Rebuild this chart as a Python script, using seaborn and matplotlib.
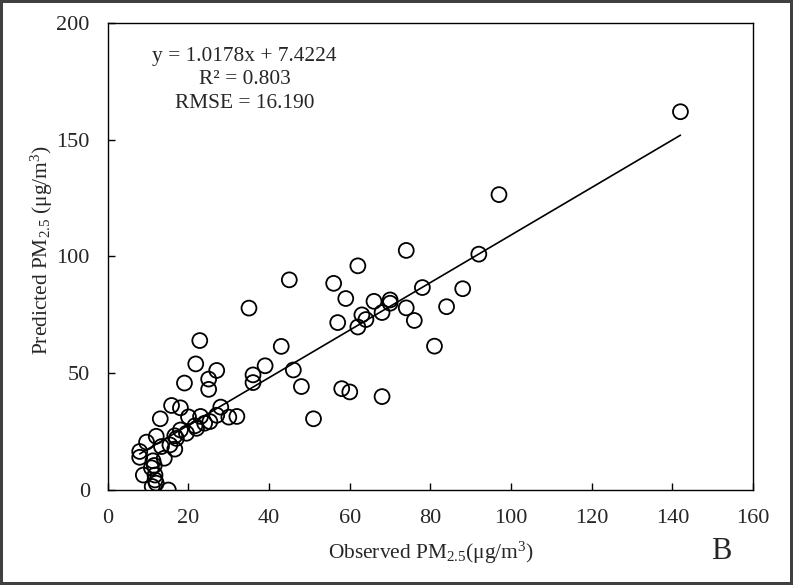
import numpy as np
import pandas as pd
import seaborn as sns
import matplotlib.pyplot as plt

# observed vs predicted PM2.5 (ug/m3)
observed = [142, 97, 92, 74, 62, 45, 56, 59, 66, 70, 70, 78, 88, 84, 74, 76,
            68, 63, 64, 62, 57, 81, 43, 39, 36, 36, 46, 48, 58, 60, 68, 51, 35,
            22.8, 21.8, 27, 19, 25, 25, 15.8, 18, 28, 13, 20, 23, 27, 30, 32,
            25.3, 24, 21.6, 22, 18, 19.5, 16.6, 17, 12, 9.6, 13.3, 15.4, 16.6,
            7.9, 7.9, 11.2, 14, 10.8, 8.8, 11.7, 11.7, 12, 11, 15, 11.5]
predicted = [162, 126.5, 101, 102.6, 96, 90, 88.5, 82, 80.8, 81.4, 80, 86.7,
             86.2, 78.5, 78, 72.6, 76, 75, 73, 69.8, 71.7, 61.6, 61.5, 53.2,
             49.3, 46, 51.4, 44.3, 43.4, 42, 40, 30.5, 77.9,
             64, 54, 51.2, 45.8, 47.5, 43.1, 36.2, 35.2, 35.5, 30.5, 31.3, 31.5,
             32, 31.2, 31.5, 29.3, 28.6, 27.5, 26.4, 25.7, 24.3, 23.2, 22.1, 23,
             20.5, 18.6, 19.3, 17.5, 16.5, 14, 12.5, 13.6, 9.5, 6.4, 6.4, 4.3,
             2.9, 1.5, 0, 10.5]

slope, intercept = 1.0178, 7.4224
stats_lines = ["y = 1.0178x + 7.4224", "R² = 0.803", "RMSE = 16.190"]

df = pd.DataFrame({'observed': observed, 'predicted': predicted})

sns.set_style('ticks', {'xtick.direction': 'in', 'ytick.direction': 'in'})
plt.rcParams['font.family'] = ['Liberation Serif', 'DejaVu Serif']
plt.rcParams['mathtext.fontset'] = 'custom'
plt.rcParams['mathtext.rm'] = 'Liberation Serif'
plt.rcParams['mathtext.it'] = 'Liberation Serif:italic'

fig = plt.figure(figsize=(7.93, 5.85), dpi=100)
fig.patch.set_edgecolor('#404040')
fig.patch.set_linewidth(3)
ax = fig.add_axes([0.136, 0.1624, 0.8136, 0.7983])

sns.scatterplot(data=df, x='observed', y='predicted', ax=ax, s=115,
                facecolor='none', edgecolor='black', linewidth=1.3)

xs = np.array([df['observed'].min(), df['observed'].max()])
ax.plot(xs, slope * xs + intercept, color='black', lw=1.2)

ax.set_xlim(0, 160)
ax.set_ylim(0, 200)
ax.set_xticks(range(0, 161, 20))
ax.set_yticks(range(0, 201, 50))
ax.tick_params(labelsize=16, length=5, width=1, color='black')
ax.tick_params(axis='x', pad=14)
ax.tick_params(axis='y', pad=13)
for s in ax.spines.values():
    s.set_color('black')
    s.set_linewidth(1)

ax.set_xlabel('Observed PM$_{\\mathrm{2.5}}$(μg/m$^{\\mathrm{3}}$)', fontsize=15.4, labelpad=8)
ax.set_ylabel('Predicted PM$_{\\mathrm{2.5}}$ (μg/m$^{\\mathrm{3}}$)', fontsize=15.4)
ax.yaxis.set_label_coords(-0.082, 0.513)

for i, line in enumerate(stats_lines):
    ax.text(0.212, 0.929 - i * 0.051, line, transform=ax.transAxes,
            ha='center', va='center', fontsize=15.4)
fig.text(0.909, 0.057, 'B', fontsize=22, ha='center', va='center')

fig.savefig('out.png', dpi=100)
plt.close()
